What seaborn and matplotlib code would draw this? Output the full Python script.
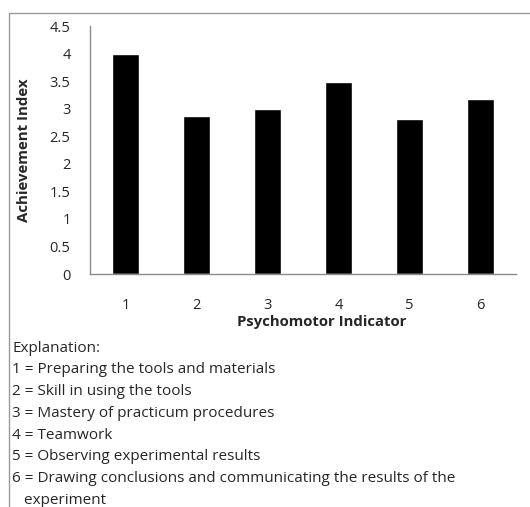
import matplotlib
matplotlib.use("Agg")
import matplotlib.pyplot as plt
import matplotlib.patches as mpatches
import numpy as np
import pandas as pd
import seaborn as sns

# Data
indicators = ["1", "2", "3", "4", "5", "6"]
achievement = [4.0, 2.87, 3.0, 3.48, 2.81, 3.17]
y_ticks = [0, 0.5, 1, 1.5, 2, 2.5, 3, 3.5, 4, 4.5]
y_tick_labels = ["0", "0.5", "1", "1.5", "2", "2.5", "3", "3.5", "4", "4.5"]
explanation = [
    "Explanation:",
    "1 = Preparing the tools and materials",
    "2 = Skill in using the tools",
    "3 = Mastery of practicum procedures",
    "4 = Teamwork",
    "5 = Observing experimental results",
    "6 = Drawing conclusions and communicating the results of the",
    "   experiment",
]

sns.set_style("white")
plt.rcParams["font.family"] = ["Open Sans", "DejaVu Sans"]

W, H = 530, 507
fig = plt.figure(figsize=(W / 100, H / 100), dpi=100)
ax = fig.add_axes([90 / W, 1 - 274 / H, (516 - 90) / W, (274 - 26) / H])

df = pd.DataFrame({"Indicator": indicators, "Index": achievement})
sns.barplot(data=df, x="Indicator", y="Index", color="black", width=0.39,
            saturation=1, ax=ax)

axis_gray = "#8c8c8c"
text_col = "#262626"
ax.set_xlim(-0.5, len(indicators) - 0.5)
ax.set_ylim(0, 4.5)
ax.set_yticks(y_ticks)
ax.set_yticklabels(y_tick_labels)
ax.set_xticks(range(len(indicators)))
ax.set_xticklabels(indicators)
ax.set_xticks(np.arange(-0.5, len(indicators)), minor=True)
ax.tick_params(axis="x", which="major", length=0, pad=17, labelsize=10.5,
               colors=text_col)
ax.tick_params(axis="x", which="minor", length=5, width=1, color=axis_gray,
               direction="out")
ax.tick_params(axis="y", which="major", length=5, width=1, color=axis_gray,
               direction="out", labelsize=10.5, labelcolor=text_col, pad=9)

for side in ["top", "right"]:
    ax.spines[side].set_visible(False)
for side in ["left", "bottom"]:
    ax.spines[side].set_color(axis_gray)
    ax.spines[side].set_linewidth(1)

ax.set_ylabel("Achievement Index", fontsize=10.8, fontweight="bold",
              color=text_col)
ax.yaxis.set_label_coords((31 - 90) / (516 - 90), 0.5)
ax.set_xlabel("Psychomotor Indicator", fontsize=10.7, fontweight="bold",
              color=text_col)
ax.xaxis.set_label_coords((322 - 90) / (516 - 90), -(315 - 274) / (274 - 26))

# outer chart frame (left and top edges visible)
frame = mpatches.Rectangle((9 / W, -0.1), 1.2, 1 - 13 / H + 0.1,
                           transform=fig.transFigure, fill=False,
                           edgecolor="#9a9a9a", linewidth=1)
fig.patches.append(frame)

y0 = 348
for i, line in enumerate(explanation):
    fig.text(12 / W, 1 - (y0 + i * 21.8) / H, line, fontsize=11,
             color=text_col, va="center", ha="left")

fig.savefig("out.png", dpi=100)
